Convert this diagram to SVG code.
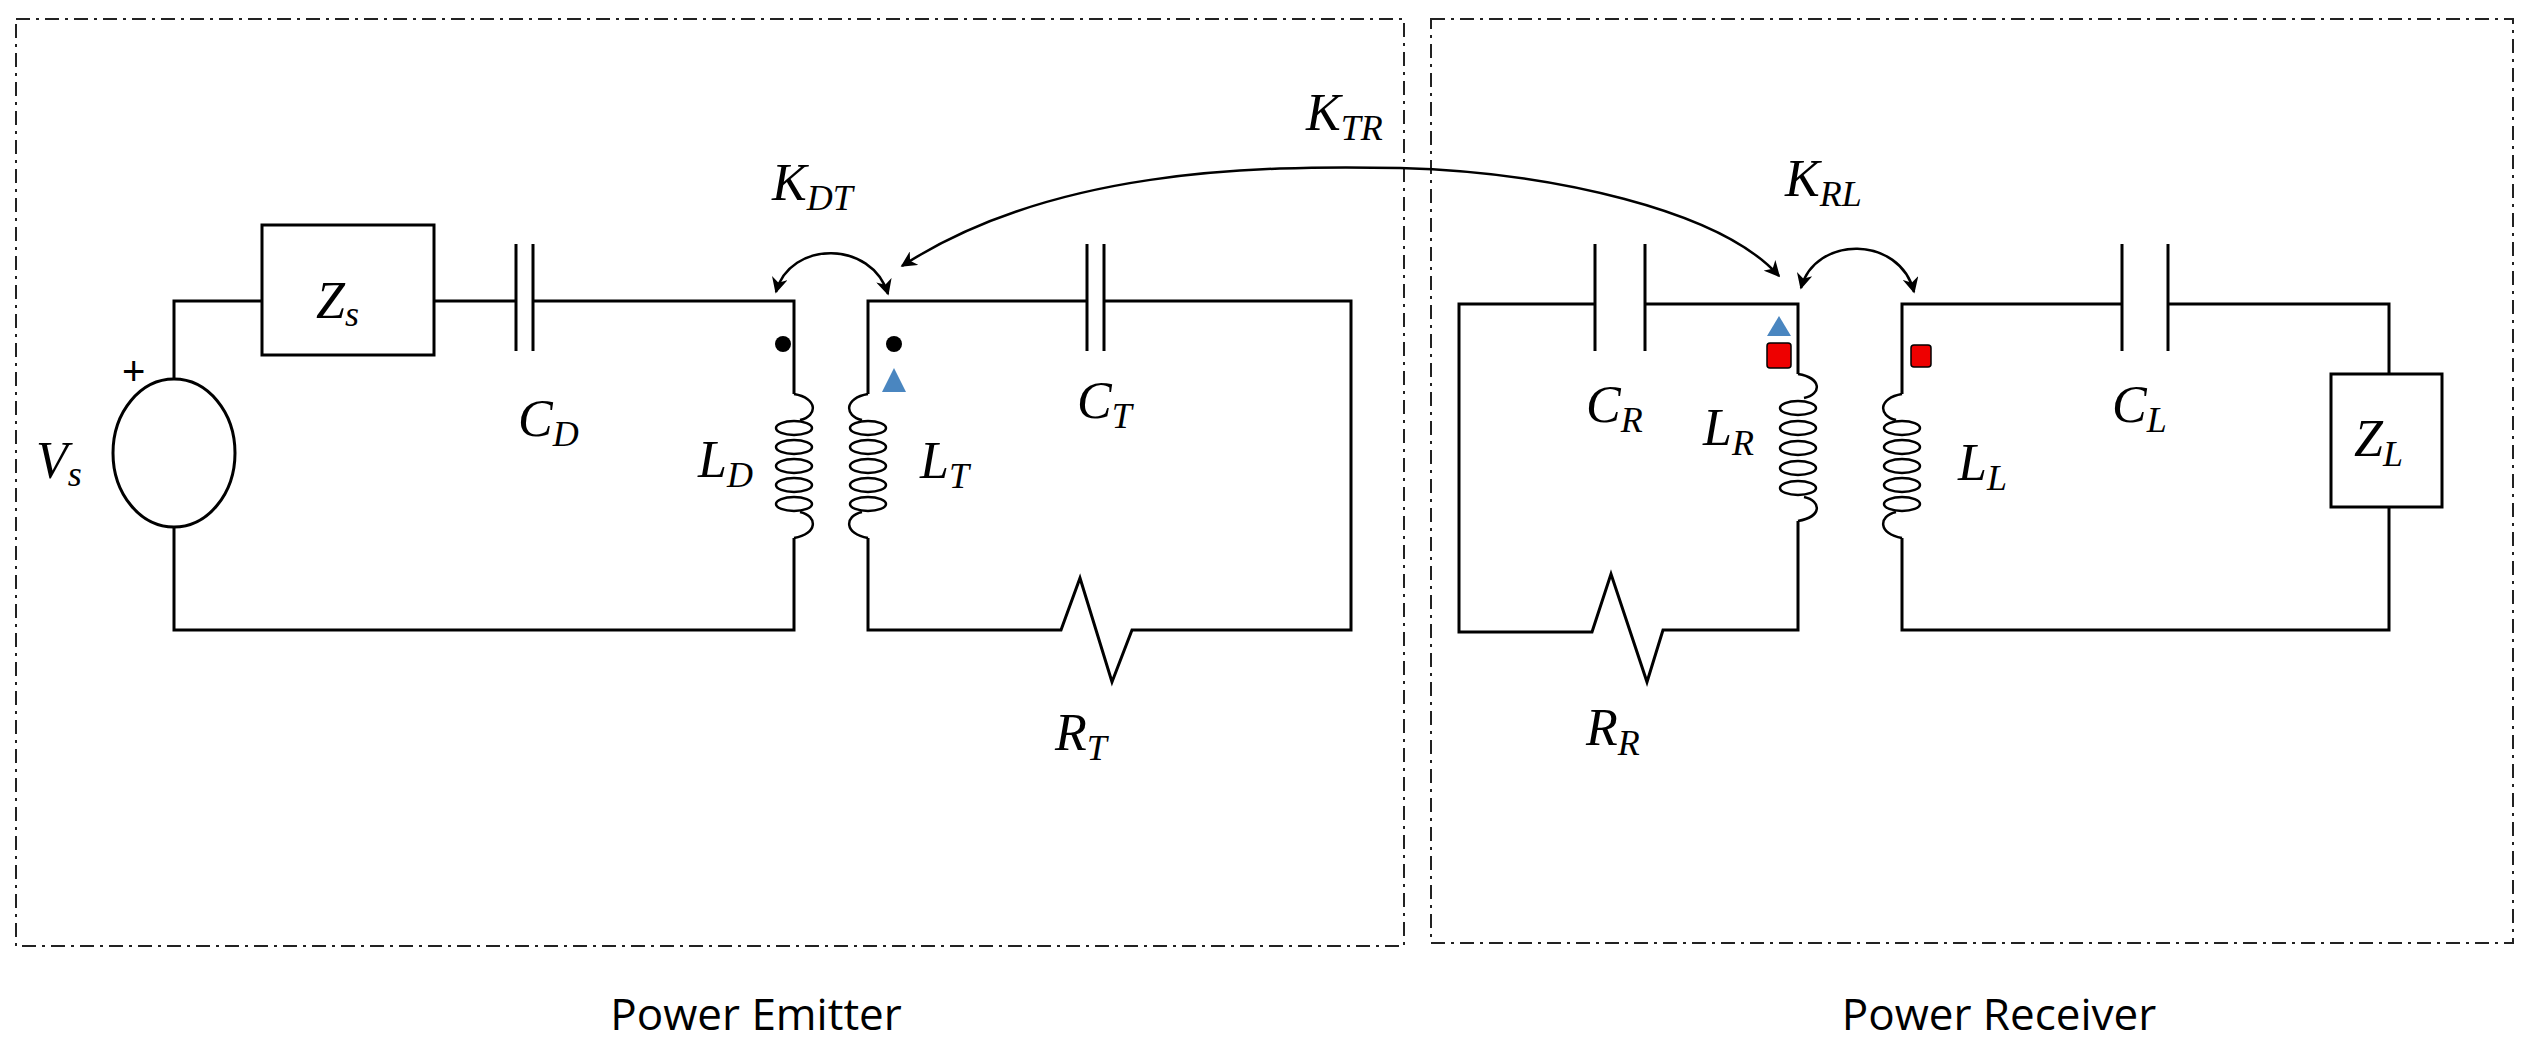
<svg xmlns="http://www.w3.org/2000/svg" width="2522" height="1050" viewBox="0 0 2522 1050">
<style>
.w{fill:none;stroke:#000;stroke-width:3}
.b{fill:none;stroke:#222;stroke-width:2;stroke-dasharray:14 6 3 6}
.l{font-family:"Liberation Serif",serif;font-style:italic;font-size:52px;fill:#000}
.s{font-size:36px}
.t{font-family:"Open Sans","Liberation Sans",sans-serif;font-size:44px;fill:#000;text-anchor:middle}
</style>
<defs>
<marker id="ah2" viewBox="0 0 10 10" refX="9" refY="5" markerWidth="16" markerHeight="16" markerUnits="userSpaceOnUse" orient="auto-start-reverse"><path d="M0,0 L10,5 L0,10 L3,5 z" fill="#000"/></marker>
</defs>
<rect width="2522" height="1050" fill="#fff"/>
<g id="emitter-box"><rect class="b" x="16" y="19" width="1388" height="927"/><text class="t" x="756" y="1030">Power Emitter</text></g>
<g id="receiver-box"><rect class="b" x="1431" y="19" width="1082" height="924"/><text class="t" x="1999" y="1030">Power Receiver</text></g>
<g id="wires">
<path class="w" d="M174,379 V301 H262 M434,301 H516 M533,301 H794 V394 M794,538 V630 H174 V527"/>
<path class="w" d="M868,394 V301 H1087 M1104,301 H1351 V630 H1132 L1112,682 L1080,578 L1061,630 H868 V538"/>
<path class="w" d="M1798,374 V304 H1645 M1595,304 H1459 V632 H1592 L1611,574 L1647,682 L1663,630 H1798 V521"/>
<path class="w" d="M1902,394 V304 H2122 M2168,304 H2389 V374 M2389,507 V630 H1902 V538"/>
</g>
<g id="Vs"><ellipse class="w" cx="174" cy="453" rx="61" ry="74"/><text x="122" y="385" font-family="Liberation Sans,sans-serif" font-size="40">+</text><text class="l" x="36" y="478">V<tspan class="s" dy="8">s</tspan></text></g>
<g id="Zs"><rect class="w" x="262" y="225" width="172" height="130"/><text class="l" x="316" y="318">Z<tspan class="s" dy="8">s</tspan></text></g>
<g id="CD"><path class="w" d="M516,244 V351 M533,244 V351"/><text class="l" x="518" y="436">C<tspan class="s" dy="10">D</tspan></text></g>
<g id="CT"><path class="w" d="M1087,244 V351 M1104,244 V351"/><text class="l" x="1077" y="418">C<tspan class="s" dy="10">T</tspan></text></g>
<g id="CR"><path class="w" d="M1595,244 V351 M1645,244 V351"/><text class="l" x="1586" y="422">C<tspan class="s" dy="10">R</tspan></text></g>
<g id="CL"><path class="w" d="M2122,244 V351 M2168,244 V351"/><text class="l" x="2112" y="422">C<tspan class="s" dy="10">L</tspan></text></g>
<g id="ZL"><rect class="w" x="2331" y="374" width="111" height="133"/><text class="l" x="2354" y="456">Z<tspan class="s" dy="10">L</tspan></text></g>
<g id="LD" fill="none" stroke="#000" stroke-width="2.5">
<path d="M794,394 C818,398 818,416 800,420 M794,538 C818,534 818,516 800,512"/>
<ellipse cx="794" cy="428" rx="18" ry="7"/><ellipse cx="794" cy="447" rx="18" ry="7"/><ellipse cx="794" cy="466" rx="18" ry="7"/><ellipse cx="794" cy="485" rx="18" ry="7"/><ellipse cx="794" cy="504" rx="18" ry="7"/>
<text class="l" x="698" y="477" stroke="none" fill="#000">L<tspan class="s" dy="10">D</tspan></text>
</g>
<g id="LT" fill="none" stroke="#000" stroke-width="2.5">
<path d="M868,394 C844,398 844,416 862,420 M868,538 C844,534 844,516 862,512"/>
<ellipse cx="868" cy="428" rx="18" ry="7"/><ellipse cx="868" cy="447" rx="18" ry="7"/><ellipse cx="868" cy="466" rx="18" ry="7"/><ellipse cx="868" cy="485" rx="18" ry="7"/><ellipse cx="868" cy="504" rx="18" ry="7"/>
<text class="l" x="920" y="478" stroke="none" fill="#000">L<tspan class="s" dy="10">T</tspan></text>
</g>
<g id="LR" fill="none" stroke="#000" stroke-width="2.5">
<path d="M1798,374 C1822,378 1822,394 1804,398 M1798,521 C1822,517 1822,501 1804,497"/>
<ellipse cx="1798" cy="408" rx="18" ry="7"/><ellipse cx="1798" cy="428" rx="18" ry="7"/><ellipse cx="1798" cy="448" rx="18" ry="7"/><ellipse cx="1798" cy="468" rx="18" ry="7"/><ellipse cx="1798" cy="488" rx="18" ry="7"/>
<text class="l" x="1703" y="445" stroke="none" fill="#000">L<tspan class="s" dy="10">R</tspan></text>
</g>
<g id="LL" fill="none" stroke="#000" stroke-width="2.5">
<path d="M1902,394 C1878,398 1878,416 1896,420 M1902,538 C1878,534 1878,516 1896,512"/>
<ellipse cx="1902" cy="428" rx="18" ry="7"/><ellipse cx="1902" cy="447" rx="18" ry="7"/><ellipse cx="1902" cy="466" rx="18" ry="7"/><ellipse cx="1902" cy="485" rx="18" ry="7"/><ellipse cx="1902" cy="504" rx="18" ry="7"/>
<text class="l" x="1958" y="480" stroke="none" fill="#000">L<tspan class="s" dy="10">L</tspan></text>
</g>
<g id="RT"><text class="l" x="1055" y="750">R<tspan class="s" dy="10">T</tspan></text></g>
<g id="RR"><text class="l" x="1586" y="745">R<tspan class="s" dy="10">R</tspan></text></g>
<g id="markers">
<circle cx="783" cy="344" r="8"/><circle cx="894" cy="344" r="8"/>
<path d="M894,368 L906,392 L882,392 z" fill="#4a86c0"/>
<path d="M1779,316 L1791,336 L1767,336 z" fill="#4a86c0"/>
<rect x="1767" y="343" width="24" height="25" rx="3" fill="#e00" stroke="#000" stroke-width="1.5"/>
<rect x="1911" y="345" width="20" height="22" rx="3" fill="#e00" stroke="#000" stroke-width="1.5"/>
</g>
<g id="connectors" fill="none" stroke="#000" stroke-width="2.5">
<path d="M776,292 C790,240 872,240 888,294" marker-start="url(#ah2)" marker-end="url(#ah2)"/>
<path d="M1801,288 C1815,235 1900,235 1914,292" marker-start="url(#ah2)" marker-end="url(#ah2)"/>
<path d="M902,266 C1050,170 1250,165 1400,168 C1550,172 1720,210 1779,276" marker-start="url(#ah2)" marker-end="url(#ah2)"/>
</g>
<g id="K-labels">
<text class="l" x="772" y="200">K<tspan class="s" dy="10">DT</tspan></text>
<text class="l" x="1306" y="130">K<tspan class="s" dy="10">TR</tspan></text>
<text class="l" x="1785" y="196">K<tspan class="s" dy="10">RL</tspan></text>
</g>
</svg>
